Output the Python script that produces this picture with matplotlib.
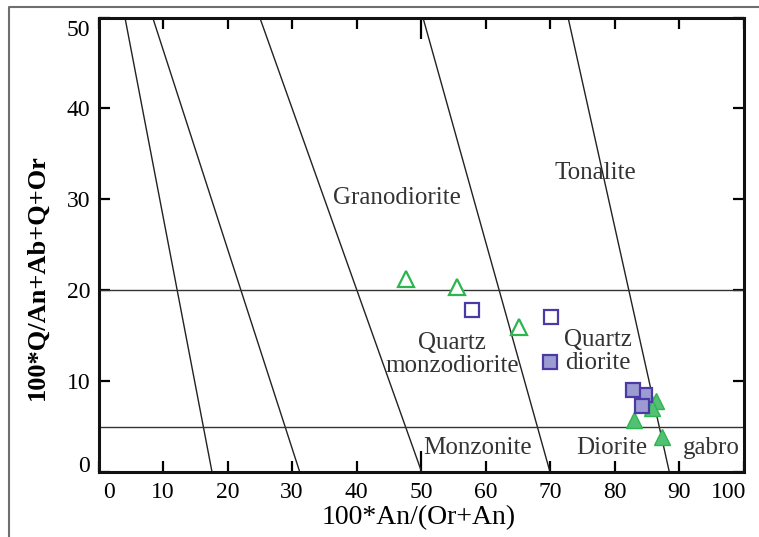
import matplotlib
matplotlib.use("Agg")
import matplotlib.pyplot as plt
import matplotlib.transforms as mtransforms
from matplotlib.lines import Line2D

# ---- data ----
# classification boundary lines: x at top (y=50) and x at bottom (y=0)
line_top_x = [4.1, 8.4, 25.0, 50.3, 72.8]
line_bot_x = [17.6, 31.2, 50.1, 70.0, 88.5]
hlines_y = [20, 4.9]

# open green triangles
open_tri_x = [47.7, 55.6, 65.2]
open_tri_y = [21.2, 20.4, 16.0]
# open purple squares
open_sq_x = [57.9, 70.1]
open_sq_y = [17.8, 17.0]
# filled green triangles
fill_tri_x = [86.5, 85.8, 83.1, 87.4]
fill_tri_y = [7.8, 7.0, 5.7, 3.9]
# filled purple squares
fill_sq_x = [70.0, 84.7, 82.9, 84.2]
fill_sq_y = [12.1, 8.5, 9.0, 7.3]

# field labels
field_names = ["Granodiorite", "Tonalite", "Quartz\nmonzodiorite", "Quartz\ndiorite",
               "Monzonite", "Diorite", "gabro"]
field_x = [46.3, 77.1, 54.8, 77.5, 58.7, 79.6, 95.0]
field_y = [30.1, 32.9, 12.9, 13.3, 2.6, 2.6, 2.6]

xticks = [0, 10, 20, 30, 40, 50, 60, 70, 80, 90, 100]
yticks = [0, 10, 20, 30, 40, 50]

plt.rcParams['font.family'] = ['Liberation Serif', 'DejaVu Serif']

W, H = 759, 537
fig = plt.figure(figsize=(W / 100, H / 100), dpi=100)
ax = fig.add_axes([98.5 / W, 1 - 472 / H, 645 / W, 454.5 / H])

# outer grey frame (top and left)
fig.add_artist(Line2D([9 / W, 9 / W, 1.0], [0.0, 1 - 7 / H, 1 - 7 / H],
                      transform=fig.transFigure, color='#6f6f6f', lw=1.5))

for xt, xb in zip(line_top_x, line_bot_x):
    ax.plot([xt, xb], [50, 0], color='#222222', lw=1.0, zorder=2)
for yh in hlines_y:
    ax.axhline(yh, color='#333333', lw=1.0, zorder=2)

green_edge = '#2db54f'
green_fill = '#52c174'
purple_edge = '#4a3aa6'
purple_fill = '#9c9cd2'

ax.plot(open_tri_x, open_tri_y, linestyle='none', marker='^', ms=11.5, mew=1.6,
        mfc='white', mec=green_edge, zorder=4)
ax.plot(open_sq_x, open_sq_y, linestyle='none', marker='s', ms=10.5, mew=1.6,
        mfc='white', mec=purple_edge, zorder=4)
ax.plot(fill_tri_x, fill_tri_y, linestyle='none', marker='^', ms=12, mew=1.0,
        mfc=green_fill, mec=green_edge, zorder=4)
for x, y in zip(fill_sq_x, fill_sq_y):
    ax.plot([x], [y], linestyle='none', marker='s', ms=10.5, mew=1.6,
            mfc=purple_fill, mec=purple_edge, zorder=5)

for name, x, y in zip(field_names, field_x, field_y):
    ax.text(x, y, name, ha='center', va='center', fontsize=18, color='#333333',
            linespacing=1.05, zorder=3)

ax.set_xlim(0, 100)
ax.set_ylim(0, 50)
ax.set_xticks(xticks)
ax.set_yticks(yticks)
ax.tick_params(direction='in', length=8, width=1.6, top=True, right=True,
               labelsize=17, colors='black')
ax.tick_params(axis='x', pad=7)
ax.tick_params(axis='y', pad=6)
for sp in ax.spines.values():
    sp.set_linewidth(2.2)
    sp.set_color('#111111')

# longer ticks at 50 on x axis
t50 = ax.xaxis.get_major_ticks()[5]
t50.tick1line.set_markersize(15)
t50.tick2line.set_markersize(15)

fig.canvas.draw()
# nudge end labels inward, as in the reference
def shift(lbl, dx, dy):
    lbl.set_transform(lbl.get_transform() +
                      mtransforms.ScaledTranslation(dx / 100, dy / 100, fig.dpi_scale_trans))

xl = ax.get_xticklabels()
shift(xl[0], 11, 0)
shift(xl[-1], -15, 0)
yl = ax.get_yticklabels()
shift(yl[0], 0, 8)
shift(yl[-1], 0, -10)

ax.set_xlabel('100*An/(Or+An)', fontsize=20, va='center')
ax.xaxis.set_label_coords(0.497, -0.101)
ax.set_ylabel('100*Q/An+Ab+Q+Or', fontsize=19, fontweight='bold',
              va='center', ha='center', rotation_mode='default')
ax.yaxis.set_label_coords(-0.0946, 0.429)

fig.savefig('out.png', dpi=100)
